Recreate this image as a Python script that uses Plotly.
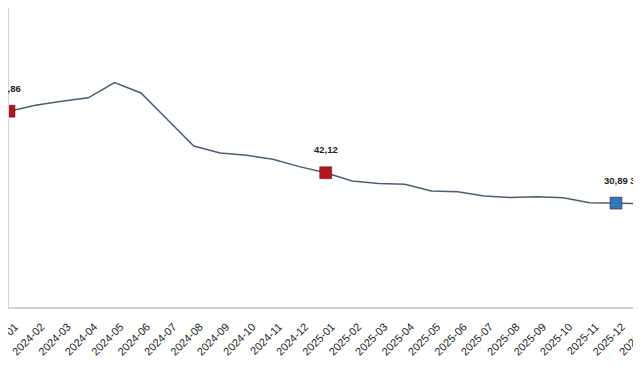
import plotly.graph_objects as go

months = ["2024-01","2024-02","2024-03","2024-04","2024-05","2024-06","2024-07","2024-08",
          "2024-09","2024-10","2024-11","2024-12","2025-01","2025-02","2025-03","2025-04",
          "2025-05","2025-06","2025-07","2025-08","2025-09","2025-10","2025-11","2025-12",
          "2026-01"]
values = [64.86, 67.07, 68.50, 69.80, 75.45, 71.60, 61.78, 51.97,
          49.38, 48.58, 47.09, 44.38, 42.12, 39.05, 38.10, 37.86,
          35.41, 35.05, 33.52, 32.95, 33.29, 32.87, 31.07, 30.89,
          30.65]
highlight_months = ["2024-01", "2025-01", "2025-12", "2026-01"]
highlight_colors = ["#b3161d", "#b3161d", "#2f78b8", "#2f78b8"]

hl_vals = [values[months.index(m)] for m in highlight_months]

fig = go.Figure()
fig.add_trace(go.Scatter(
    x=months, y=values, mode="lines",
    line=dict(color="#4d5e70", width=1.5),
    hoverinfo="skip", cliponaxis=False,
))
fig.add_trace(go.Scatter(
    x=highlight_months, y=hl_vals, mode="markers",
    marker=dict(symbol="square", size=12, color=highlight_colors,
                line=dict(color="#6b1010", width=0.5)),
    cliponaxis=False,
))

for m, v in zip(highlight_months, hl_vals):
    fig.add_annotation(
        x=m, y=v, text="<b>" + f"{v:.2f}".replace(".", ",") + "</b>",
        showarrow=False, yshift=23,
        font=dict(family="Liberation Sans, Arial, sans-serif", size=9.5, color="#222222"),
    )

fig.update_layout(
    width=641, height=380,
    margin=dict(l=1, r=0, t=0, b=81),
    paper_bgcolor="white", plot_bgcolor="white",
    showlegend=False,
    separators=",.",
    font=dict(family="Liberation Sans, Arial, sans-serif", size=11, color="#333333"),
)
fig.update_xaxes(
    type="category", range=[0, 24.25], automargin=False,
    tickangle=-45, showgrid=False, zeroline=False,
    showline=True, linecolor="#d0d0d0", linewidth=2,
    ticks="", ticklabelstandoff=7, ticklabelshift=6,
    tickfont=dict(size=11, color="#222222"),
)
fig.update_yaxes(
    range=[-7.5, 103], automargin=False,
    showgrid=False, zeroline=False,
    showline=True, linecolor="#d8d8d8", linewidth=1,
    tickvals=[0], ticktext=["0"],
    tickfont=dict(size=11, color="#333333"),
)

fig.write_html("out.html")
